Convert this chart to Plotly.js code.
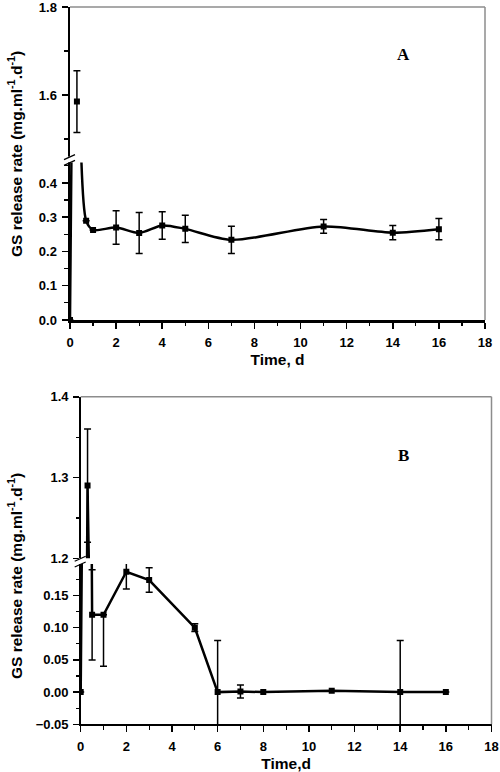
<!DOCTYPE html>
<html><head><meta charset="utf-8">
<script src="https://cdn.plot.ly/plotly-3.0.1.min.js"></script>
<style>body{margin:0;background:#fff}#chart{width:500px;height:772px}</style>
</head><body><div id="chart"></div>
<script>
// Panel A data
const timeA = [0, 0.3, 0.7, 1, 2, 3, 4, 5, 7, 11, 14, 16];
const rateA = [0, 1.585, 0.29, 0.263, 0.27, 0.254, 0.276, 0.266, 0.234, 0.273, 0.255, 0.265];
const errA  = [null, 0.07, null, null, 0.049, 0.06, 0.04, 0.04, 0.04, 0.02, 0.021, 0.031];
// Panel B data
const timeB = [0, 0.3, 0.5, 1, 2, 3, 5, 6, 7, 8, 11, 14, 16];
const rateB = [0, 1.29, 0.12, 0.12, 0.187, 0.174, 0.10, 0, 0.001, 0, 0.002, 0, 0];
const errBplus  = [null, 0.07, 0.07, null, 0.03, 0.019, 0.006, 0.08, 0.01, null, null, 0.08, null];
const errBminus = [null, 0.07, 0.07, 0.08, 0.027, 0.019, 0.006, 0.08, 0.01, null, null, 0.08, null];
// Titles
const yTitle = 'GS release rate (mg.ml<sup>-1</sup>.d<sup>-1</sup>)';
const xTitleA = 'Time, d';
const xTitleB = 'Time,d';

const W = 500, H = 772;
const px = v => v / W;
const py = v => 1 - v / H;

const tickFont = {family: 'Liberation Sans, Arial, sans-serif', size: 13, color: '#000', weight: 'bold'};
const titleFont = {family: 'Liberation Sans, Arial, sans-serif', size: 15.5, color: '#000', weight: 'bold'};

function errObj(arr, minus) {
  const o = {type: 'data', symmetric: minus === undefined, array: arr, color: '#000', thickness: 1.5, width: 3.5};
  if (minus !== undefined) o.arrayminus = minus;
  return o;
}

const traces = [
  {x: timeA, y: rateA, xaxis: 'x', yaxis: 'y', mode: 'lines+markers', line: {color: '#000', width: 2.5, shape: 'spline', smoothing: 0.8},
   marker: {symbol: 'square', size: 6, color: '#000'}, error_y: errObj(errA), hoverinfo: 'none', showlegend: false},
  {x: timeA, y: rateA, xaxis: 'x', yaxis: 'y2', mode: 'markers',
   marker: {symbol: 'square', size: 6, color: '#000'}, error_y: errObj(errA), hoverinfo: 'none', showlegend: false},
  {x: timeB, y: rateB, xaxis: 'x2', yaxis: 'y3', mode: 'lines+markers', line: {color: '#000', width: 2.5},
   marker: {symbol: 'square', size: 6, color: '#000'}, error_y: errObj(errBplus, errBminus), hoverinfo: 'none', showlegend: false},
  {x: timeB, y: rateB, xaxis: 'x2', yaxis: 'y4', mode: 'lines+markers', line: {color: '#000', width: 2.5},
   marker: {symbol: 'square', size: 6, color: '#000'}, error_y: errObj(errBplus, errBminus), hoverinfo: 'none', showlegend: false}
];

function xAxis(domain, anchor, title, lw) {
  return {domain: domain, anchor: anchor, range: [0, 18.0001], dtick: 2, tick0: 0, showgrid: false, zeroline: false,
    showline: true, linecolor: '#000', linewidth: lw, ticks: 'outside', ticklen: 6, tickwidth: 1.5, tickcolor: '#000',
    minor: {dtick: 1, ticks: 'outside', ticklen: 3.5, tickwidth: 1.2, tickcolor: '#000', showgrid: false},
    tickfont: tickFont, ticklabelstandoff: 3, ticklabeloverflow: 'allow',
    title: {text: title, font: titleFont, standoff: 5}};
}
function yAxis(domain, anchor, range, dtick, fmt, minorD, lw) {
  return {domain: domain, anchor: anchor, range: range, dtick: dtick, tick0: 0, tickformat: fmt, showgrid: false, zeroline: false,
    showline: true, linecolor: '#000', linewidth: lw, ticks: 'outside', ticklen: 6, tickwidth: 1.5, tickcolor: '#000',
    minor: {dtick: minorD, ticks: 'outside', ticklen: 3.5, tickwidth: 1.2, tickcolor: '#000', showgrid: false},
    tickfont: tickFont, ticklabelstandoff: 2, ticklabeloverflow: 'allow'};
}

const AxL = 70, AxR = 485, AyTop = 7, AyBrkU = 156.6, AyBrkL = 162.4, AyBot = 320;
const BxL = 80.7, BxR = 491.5, ByTop = 396.7, ByBrkU = 558.3, ByBrkL = 564, ByBot = 724.3;

const frameLine = {color: '#8c8c8c', width: 1.5};
const layout = {
  width: W, height: H, margin: {l: 0, r: 0, t: 0, b: 0}, paper_bgcolor: '#fff', plot_bgcolor: 'rgba(0,0,0,0)',
  showlegend: false,
  xaxis: xAxis([px(AxL), px(AxR)], 'y', xTitleA, 2.5),
  yaxis: yAxis([py(AyBot), py(AyBrkL)], 'x', [0, 0.46], 0.1, '.1f', 0.05, 2.5),
  yaxis2: yAxis([py(AyBrkU), py(AyTop)], 'x', [1.46, 1.8001], 0.2, '.1f', 0.1, 2.5),
  xaxis2: xAxis([px(BxL), px(BxR)], 'y3', xTitleB, 1.8),
  yaxis3: yAxis([py(ByBot), py(ByBrkL)], 'x2', [-0.05, 0.199], 0.05, '.2f', 0.025, 1.5),
  yaxis4: yAxis([py(ByBrkU), py(ByTop)], 'x2', [1.2, 1.4001], 0.1, '.1f', 0.05, 1.5),
  shapes: [
    {type: 'line', xref: 'paper', yref: 'paper', x0: px(AxL), x1: px(AxR), y0: py(AyTop), y1: py(AyTop), line: frameLine},
    {type: 'line', xref: 'paper', yref: 'paper', x0: px(AxR), x1: px(AxR), y0: py(AyTop), y1: py(AyBot), line: frameLine},
    {type: 'line', xref: 'paper', yref: 'paper', x0: px(BxL), x1: px(BxR), y0: py(ByTop), y1: py(ByTop), line: frameLine},
    {type: 'line', xref: 'paper', yref: 'paper', x0: px(BxR), x1: px(BxR), y0: py(ByTop), y1: py(ByBot), line: frameLine},
    {type: 'rect', layer: 'above', xref: 'paper', yref: 'paper', x0: px(AxL - 2), x1: px(AxL + 2), y0: py(AyBrkL), y1: py(AyBrkU), line: {width: 0}, fillcolor: '#fff'},
    {type: 'rect', layer: 'above', xref: 'paper', yref: 'paper', x0: px(BxL - 2), x1: px(BxL + 2), y0: py(ByBrkL), y1: py(ByBrkU), line: {width: 0}, fillcolor: '#fff'},
    {type: 'line', xref: 'paper', yref: 'paper', x0: px(AxL - 6), x1: px(AxL + 5), y0: py(AyBrkU + 3), y1: py(AyBrkU - 2), line: {color: '#000', width: 1.2}},
    {type: 'line', xref: 'paper', yref: 'paper', x0: px(AxL - 6), x1: px(AxL + 5), y0: py(AyBrkL + 3), y1: py(AyBrkL - 2), line: {color: '#000', width: 1.2}},
    {type: 'line', xref: 'paper', yref: 'paper', x0: px(BxL - 6), x1: px(BxL + 5), y0: py(ByBrkU + 3), y1: py(ByBrkU - 2), line: {color: '#000', width: 1.2}},
    {type: 'line', xref: 'paper', yref: 'paper', x0: px(BxL - 6), x1: px(BxL + 5), y0: py(ByBrkL + 3), y1: py(ByBrkL - 2), line: {color: '#000', width: 1.2}}
  ],
  annotations: [
    {text: yTitle, xref: 'paper', yref: 'paper', x: px(15), y: py(154), textangle: -90, showarrow: false, font: titleFont, xanchor: 'center', yanchor: 'middle'},
    {text: yTitle, xref: 'paper', yref: 'paper', x: px(15), y: py(576), textangle: -90, showarrow: false, font: titleFont, xanchor: 'center', yanchor: 'middle'},
    {text: 'A', xref: 'paper', yref: 'paper', x: px(412), y: py(43), showarrow: false, font: {family: 'Liberation Serif, Times New Roman, serif', size: 17, color: '#000', weight: 'bold'}},
    {text: 'B', xref: 'paper', yref: 'paper', x: px(411), y: py(455), showarrow: false, font: {family: 'Liberation Serif, Times New Roman, serif', size: 17, color: '#000', weight: 'bold'}}
  ]
};

Plotly.newPlot('chart', traces, layout, {staticPlot: true, displayModeBar: false});
</script>
</body></html>
